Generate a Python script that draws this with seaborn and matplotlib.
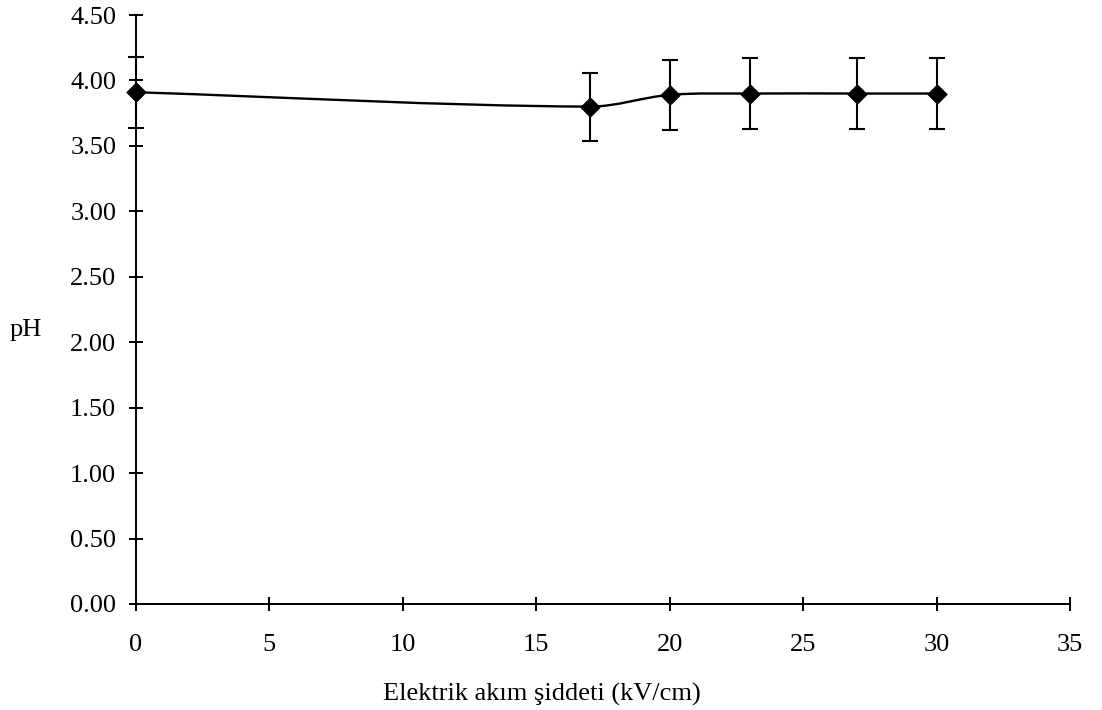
import numpy as np
import pandas as pd
import matplotlib
matplotlib.use("Agg")
import matplotlib.pyplot as plt
from matplotlib.path import Path
from matplotlib.patches import PathPatch
import seaborn as sns

# Electric field strength (kV/cm) and measured pH with standard deviation
field_kv_cm = [0, 17, 20, 23, 27, 30]
ph_values = [3.91, 3.80, 3.89, 3.90, 3.90, 3.90]
ph_sd = [0.27, 0.26, 0.27, 0.27, 0.27, 0.27]

x_ticks = [0, 5, 10, 15, 20, 25, 30, 35]
y_ticks = [0.0, 0.5, 1.0, 1.5, 2.0, 2.5, 3.0, 3.5, 4.0, 4.5]

df = pd.DataFrame({"field": field_kv_cm, "ph": ph_values, "sd": ph_sd})

sns.set_theme(style="ticks")
plt.rcParams["font.family"] = ["Liberation Serif", "DejaVu Serif"]

fig = plt.figure(figsize=(11.02, 7.10), dpi=100)
ax = fig.add_axes([136 / 1102, 106 / 710, 934 / 1102, 589 / 710])


def smooth_path(xs, ys):
    """Smoothed line: cubic Hermite through the points, tangents from neighbours."""
    x = np.asarray(xs, dtype=float)
    y = np.asarray(ys, dtype=float)
    n = len(x)
    m = np.zeros(n)
    for i in range(n):
        lo = max(i - 1, 0)
        hi = min(i + 1, n - 1)
        m[i] = (y[hi] - y[lo]) / (x[hi] - x[lo])
    verts = [(x[0], y[0])]
    codes = [Path.MOVETO]
    for i in range(n - 1):
        h = (x[i + 1] - x[i]) / 3.0
        verts += [(x[i] + h, y[i] + m[i] * h),
                  (x[i + 1] - h, y[i + 1] - m[i + 1] * h),
                  (x[i + 1], y[i + 1])]
        codes += [Path.CURVE4] * 3
    return Path(verts, codes)


ax.add_patch(PathPatch(smooth_path(df["field"], df["ph"]), facecolor="none",
                       edgecolor="black", lw=1.7, zorder=2))

ax.errorbar(df["field"], df["ph"], yerr=df["sd"], fmt="none", ecolor="black",
            elinewidth=1.5, capsize=5.5, capthick=1.5, zorder=3, clip_on=False)

sns.scatterplot(data=df, x="field", y="ph", marker="D", s=100, color="black",
                edgecolor="black", linewidth=0.5, ax=ax, zorder=4, clip_on=False,
                legend=False)

ax.set_xlim(0, 35)
ax.set_ylim(0, 4.5)
ax.set_xticks(x_ticks)
ax.set_yticks(y_ticks)
ax.set_xticklabels([str(t) for t in x_ticks])
ax.set_yticklabels([f"{t:.2f}" for t in y_ticks])

for side in ["top", "right"]:
    ax.spines[side].set_visible(False)
for side in ["left", "bottom"]:
    ax.spines[side].set_linewidth(1.4)
    ax.spines[side].set_color("black")

ax.tick_params(axis="both", which="major", bottom=True, left=True,
               direction="inout", length=10.5, width=1.4,
               colors="black", labelsize=19)
ax.tick_params(axis="x", pad=16)
ax.tick_params(axis="y", pad=9)

ax.set_xlabel("Elektrik akım şiddeti (kV/cm)", fontsize=19, color="black",
              va="center")
ax.set_ylabel("pH", fontsize=19, rotation=0, color="black", va="center", ha="center")
ax.xaxis.set_label_coords(406 / 934, -90 / 589)
ax.yaxis.set_label_coords(-110 / 934, 274 / 589)

fig.savefig("out.png", dpi=100, facecolor="white")
